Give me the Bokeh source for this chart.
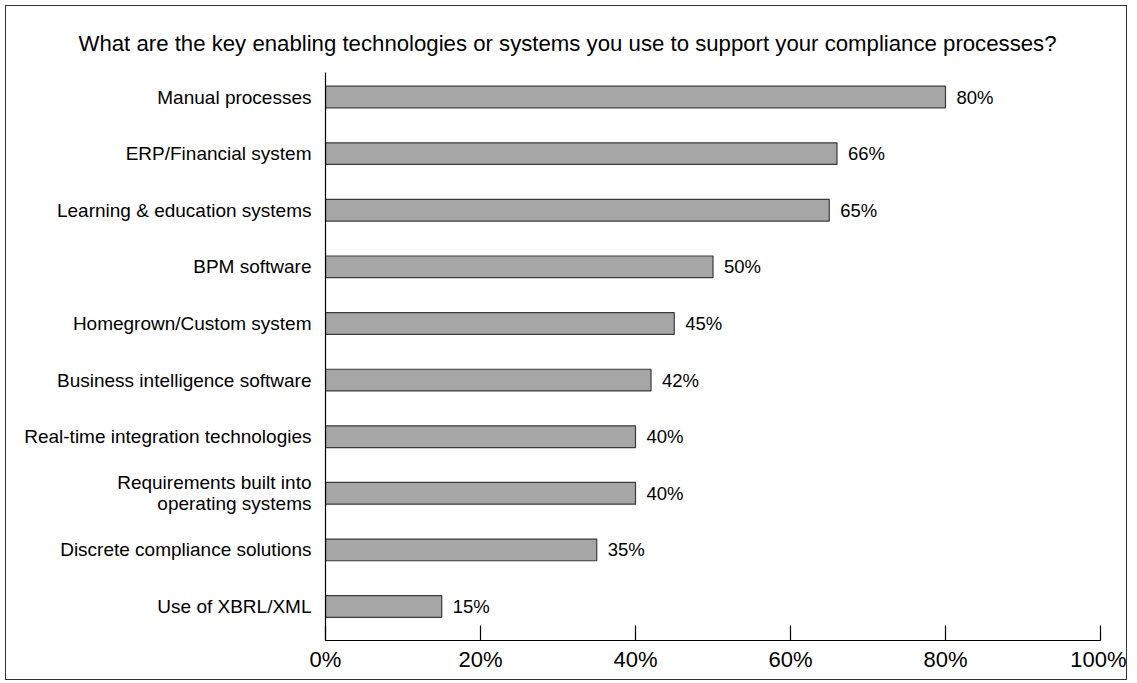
from bokeh.plotting import figure
from bokeh.models import Range1d, FixedTicker, ColumnDataSource
from bokeh.embed import file_html
from bokeh.resources import INLINE
from bokeh.core.properties import value

title_text = "What are the key enabling technologies or systems you use to support your compliance processes?"
categories = [
    "Manual processes",
    "ERP/Financial system",
    "Learning & education systems",
    "BPM software",
    "Homegrown/Custom system",
    "Business intelligence software",
    "Real-time integration technologies",
    "Requirements built into\noperating systems",
    "Discrete compliance solutions",
    "Use of XBRL/XML",
]
percentages = [80, 66, 65, 50, 45, 42, 40, 40, 35, 15]
x_ticks = [0, 20, 40, 60, 80, 100]
x_tick_labels = ["0%", "20%", "40%", "60%", "80%", "100%"]

FONT = "Liberation Sans"

positions = list(range(len(categories)))
src = ColumnDataSource(dict(
    y=positions,
    v=percentages,
    lab=[f"{v}%" for v in percentages],
))

p = figure(
    width=1122, height=675,
    x_range=Range1d(0, 100),
    y_range=Range1d(9.60, -0.433),
    output_backend="svg", toolbar_location=None,
    min_border_left=319, min_border_right=28,
    min_border_top=66, min_border_bottom=41,
)
p.styles = {"border": "1px solid #333333", "margin": "5px"}
p.background_fill_color = "white"
p.border_fill_color = "white"
p.outline_line_color = None
p.xgrid.visible = False
p.ygrid.visible = False

p.title.text = title_text
p.title.text_font = FONT
p.title.text_font_size = "22.2px"
p.title.text_font_style = "normal"
p.title.text_color = "black"
p.title.align = "left"
p.title.offset = -247
p.title.standoff = 34

p.hbar(y="y", right="v", left=0, height=0.383, source=src,
       fill_color="#a6a6a6", line_color="#3a3a3a", line_width=1.2)

p.text(x="v", y="y", text="lab", source=src, x_offset=11,
       text_align="left", text_baseline="middle",
       text_font=value(FONT), text_font_size="18.5px", text_color="black")

xa = p.xaxis[0]
xa.ticker = FixedTicker(ticks=x_ticks)
xa.major_label_overrides = {t: l for t, l in zip(x_ticks, x_tick_labels)}
xa.major_tick_in = 15
xa.major_tick_out = 0
xa.minor_tick_line_color = None
xa.axis_line_color = "black"
xa.axis_line_width = 1.2
xa.major_tick_line_color = "black"
xa.major_tick_line_width = 1.2
xa.major_label_text_font = FONT
xa.major_label_text_font_size = "22px"
xa.major_label_text_color = "black"
xa.major_label_standoff = 6

ya = p.yaxis[0]
ya.ticker = FixedTicker(ticks=positions)
ya.major_label_overrides = {i: c for i, c in zip(positions, categories)}
ya.major_tick_in = 0
ya.major_tick_out = 0
ya.minor_tick_line_color = None
ya.axis_line_color = "black"
ya.axis_line_width = 1.2
ya.major_label_text_font = FONT
ya.major_label_text_font_size = "19px"
ya.major_label_text_line_height = 1.0
ya.major_label_text_color = "black"
ya.major_label_standoff = 14

open("out.html", "w").write(file_html(p, INLINE))
